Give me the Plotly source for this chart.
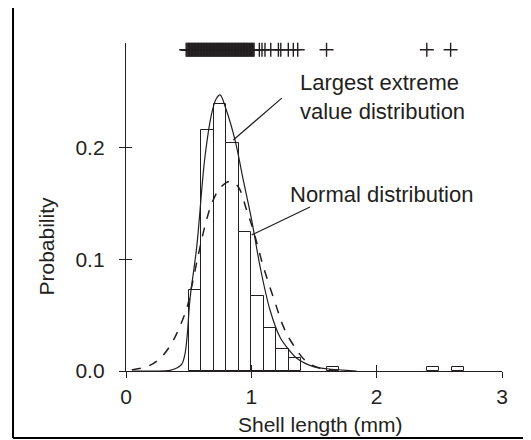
import plotly.graph_objects as go

# ---- data ----
bin_left = [0.5, 0.6, 0.7, 0.8, 0.9, 1.0, 1.1, 1.2, 1.3, 1.6, 2.4, 2.6]
bin_prob = [0.0726, 0.216, 0.2395, 0.204, 0.1244, 0.0675, 0.0383, 0.0195, 0.0114, 0.004, 0.004, 0.004]
bin_width = 0.1

gev_x = [0.05, 0.20, 0.35, 0.40, 0.444, 0.47, 0.49, 0.51, 0.564, 0.63, 0.684, 0.72, 0.75,
         0.80, 0.87, 0.936, 1.003, 1.07, 1.149, 1.23, 1.30, 1.362, 1.495, 1.60, 1.84]
gev_y = [0.0, 0.0, 0.0005, 0.0024, 0.006, 0.015, 0.034, 0.064, 0.111, 0.192, 0.231, 0.244, 0.2475,
         0.234, 0.207, 0.171, 0.135, 0.0935, 0.0547, 0.030, 0.019, 0.0114, 0.0039, 0.002, 0.0]

norm_x = [0.045, 0.19, 0.285, 0.365, 0.43, 0.49, 0.524, 0.577, 0.63, 0.684, 0.75, 0.83,
          0.896, 0.963, 1.016, 1.096, 1.20, 1.255, 1.31, 1.44, 1.55, 1.70]
norm_y = [0.001, 0.005, 0.0128, 0.025, 0.040, 0.058, 0.0756, 0.104, 0.130, 0.150, 0.164, 0.170,
          0.165, 0.144, 0.126, 0.0935, 0.0577, 0.040, 0.0278, 0.0083, 0.0024, 0.0005]

rug_x = [0.480, 0.487, 0.494, 0.500, 0.506, 0.512, 0.518, 0.524, 0.530, 0.536, 0.542, 0.548,
         0.554, 0.560, 0.566, 0.572, 0.578, 0.584, 0.590, 0.596, 0.602, 0.608, 0.614, 0.620,
         0.626, 0.632, 0.638, 0.644, 0.650, 0.656, 0.662, 0.668, 0.674, 0.680, 0.686, 0.692,
         0.698, 0.704, 0.710, 0.716, 0.722, 0.728, 0.734, 0.740, 0.746, 0.752, 0.758, 0.764,
         0.770, 0.776, 0.782, 0.788, 0.794, 0.800, 0.806, 0.812, 0.818, 0.824, 0.830, 0.836,
         0.842, 0.848, 0.854, 0.860, 0.866, 0.872, 0.878, 0.884, 0.890, 0.896, 0.902, 0.908,
         0.914, 0.920, 0.926, 0.932, 0.938, 0.944, 0.950, 0.956, 0.962, 0.968, 0.974, 0.980,
         0.987, 0.994, 1.001, 1.008, 1.015, 1.022,
         1.064, 1.085, 1.109, 1.155, 1.216, 1.235, 1.295, 1.335, 1.37, 1.60, 2.40, 2.59]
rug_level = 0.288

x_ticks = [0, 1, 2, 3]
y_ticks = [0.0, 0.1, 0.2]
x_range = [0, 3]
y_range = [0, 0.294]

ink = "#231f20"
FONT = "Liberation Sans, Arial, Helvetica, sans-serif"
FS = 21
FS_ANN = 22

fig = go.Figure()
fig.add_trace(go.Bar(x=[b + bin_width / 2 for b in bin_left], y=bin_prob, width=bin_width,
                     marker=dict(color="white", line=dict(color=ink, width=1)), showlegend=False))
fig.add_trace(go.Scatter(x=norm_x, y=norm_y, mode="lines", line=dict(color=ink, width=1.5, dash="dash", shape="spline"),
                         showlegend=False))
fig.add_trace(go.Scatter(x=gev_x, y=gev_y, mode="lines", line=dict(color=ink, width=1.2, shape="spline"),
                         showlegend=False))
fig.add_trace(go.Scatter(x=rug_x, y=[rug_level] * len(rug_x), mode="markers",
                         marker=dict(symbol="cross-thin-open", size=10, color=ink, line=dict(color=ink, width=1.4)),
                         showlegend=False, cliponaxis=False))
# helper traces so that the overlay axes (inner halves of the crossing ticks) are drawn
fig.add_trace(go.Scatter(x=[None], y=[None], xaxis="x2", yaxis="y", showlegend=False))
fig.add_trace(go.Scatter(x=[None], y=[None], xaxis="x", yaxis="y2", showlegend=False))

axis_common = dict(showgrid=False, zeroline=False, tickcolor=ink, tickwidth=1.2, ticklen=6,
                   tickfont=dict(family=FONT, size=FS, color=ink))

# outer frame edges (paper coordinates of the plot area)
fl, fr, fb, ft = -0.3005, 1.0718, -0.2043, 1.1159
frame = dict(xref="paper", yref="paper", type="line", line=dict(color="black", width=2))

fig.update_layout(
    width=523, height=432,
    margin=dict(l=118, r=29, t=35, b=69),
    paper_bgcolor="white", plot_bgcolor="white",
    bargap=0,
    xaxis=dict(range=x_range, tickvals=x_ticks, ticks="outside", showline=True, linecolor=ink, linewidth=1.3,
               ticklabelstandoff=1, **axis_common),
    yaxis=dict(range=y_range, tickvals=y_ticks, tickformat=".1f", ticks="outside", showline=True, linecolor=ink,
               linewidth=1.3, ticklabelstandoff=10, **axis_common),
    xaxis2=dict(range=x_range, tickvals=x_ticks, ticks="inside", overlaying="x", anchor="y", showline=False,
                showticklabels=False, **axis_common),
    yaxis2=dict(range=y_range, tickvals=y_ticks, ticks="inside", overlaying="y", anchor="x", side="left",
                showline=False, showticklabels=False, **axis_common),
    annotations=[
        dict(x=0.5186, y=-0.1646, xref="paper", yref="paper", text="Shell length (mm)", showarrow=False,
             xanchor="center", yanchor="middle", font=dict(family=FONT, size=FS, color=ink)),
        dict(x=-0.2114, y=0.381, xref="paper", yref="paper", text="Probability", textangle=-90, showarrow=False,
             xanchor="center", yanchor="middle", font=dict(family=FONT, size=FS, color=ink)),
        dict(x=1.373, y=0.2453, xref="x", yref="y", text="Largest extreme<br>value distribution", showarrow=False,
             xanchor="left", yanchor="middle", align="left", font=dict(family=FONT, size=FS_ANN, color=ink)),
        dict(x=1.293, y=0.1578, xref="x", yref="y", text="Normal distribution", showarrow=False,
             xanchor="left", yanchor="middle", align="left", font=dict(family=FONT, size=FS_ANN, color=ink)),
    ],
    shapes=[
        dict(type="line", xref="x", yref="y", x0=1.243, y0=0.2446, x1=0.856, y1=0.207,
             line=dict(color=ink, width=1.2)),
        dict(type="line", xref="x", yref="y", x0=1.468, y0=0.147, x1=1.003, y1=0.122,
             line=dict(color=ink, width=1.2)),
        dict(x0=fl, x1=fl, y0=fb, y1=ft, **frame),
        dict(x0=fl, x1=fr, y0=ft, y1=ft, **frame),
        dict(x0=fr, x1=fr, y0=fb, y1=ft, **frame),
        dict(x0=fl, x1=fr, y0=fb, y1=fb, **frame),
    ],
)

fig.write_html("out.html")
